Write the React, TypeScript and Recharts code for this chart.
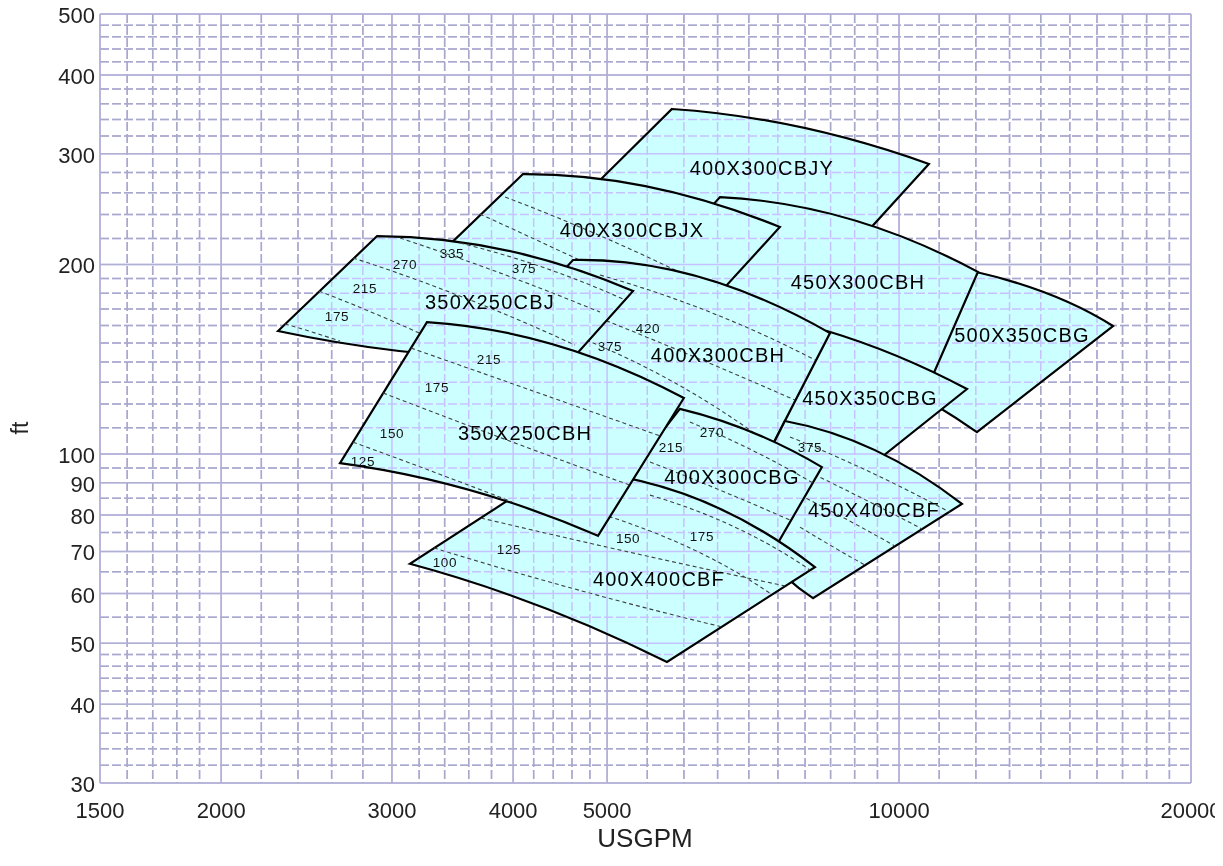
import React from 'react';
import { ScatterChart, Scatter, XAxis, YAxis } from 'recharts';

type Pt = { x: number; y: number };
type Mark = { x: number; y: number; text: string };

const FONT = '"Liberation Sans", Arial, Helvetica, sans-serif';

// axes (log-log)
const xDomain = [1500, 20000];
const yDomain = [30, 500];
const xTickValues = [1500, 2000, 3000, 4000, 5000, 10000, 20000];
const yTickValues = [30, 40, 50, 60, 70, 80, 90, 100, 200, 300, 400, 500];
const xMinorValues = [1600, 1700, 1800, 1900, 2200, 2400, 2600, 2800, 3200, 3400, 3600, 3800, 4200, 4400, 4600, 4800,
  5500, 6000, 6500, 7000, 7500, 8000, 8500, 9000, 9500, 11000, 12000, 13000, 14000, 15000, 16000, 17000, 18000, 19000];
const yMinorValues = [32, 34, 36, 38, 42, 44, 46, 48, 55, 65, 75, 85, 95, 110, 120, 130, 140, 150, 160, 170, 180, 190,
  220, 240, 260, 280, 320, 340, 360, 380, 420, 440, 460, 480];

// pump ranges: top-left, top-mid, top-right, bottom-right, bottom-mid, bottom-left
const edgeCBJY: Pt[] = [{ x: 5832, y: 353.2 }, { x: 7904, y: 330.7 }, { x: 10735, y: 288.8 }, { x: 9266, y: 225.2 }, { x: 6773, y: 239.7 }, { x: 4824, y: 264.5 }];
const edge500CBG: Pt[] = [{ x: 10633, y: 201.8 }, { x: 13640, y: 184.1 }, { x: 16620, y: 159.7 }, { x: 12030, y: 108.3 }, { x: 10888, y: 119.6 }, { x: 9786, y: 131.0 }];
const edge450CBH: Pt[] = [{ x: 6537, y: 255.9 }, { x: 8899, y: 236.2 }, { x: 12059, y: 194.6 }, { x: 10761, y: 130.1 }, { x: 7904, y: 154.5 }, { x: 5735, y: 204.8 }];
const edgeCBJX: Pt[] = [{ x: 4095, y: 278.4 }, { x: 5536, y: 265.5 }, { x: 7536, y: 229.4 }, { x: 6475, y: 177.6 }, { x: 4688, y: 187.6 }, { x: 3362, y: 207.8 }];
const edge450CBG: Pt[] = [{ x: 8427, y: 156.8 }, { x: 9950, y: 143.1 }, { x: 11750, y: 126.8 }, { x: 9511, y: 97.8 }, { x: 8288, y: 103.3 }, { x: 7186, y: 103.3 }];
const edge400CBH: Pt[] = [{ x: 4611, y: 203.3 }, { x: 6233, y: 191.0 }, { x: 8487, y: 155.6 }, { x: 7359, y: 101.4 }, { x: 5536, y: 117.4 }, { x: 3877, y: 151.7 }];
const edgeCBJ: Pt[] = [{ x: 2896, y: 221.9 }, { x: 3925, y: 210.8 }, { x: 5318, y: 181.5 }, { x: 4622, y: 142.6 }, { x: 3283, y: 144.1 }, { x: 2289, y: 156.8 }];
const edge450CBF: Pt[] = [{ x: 7626, y: 112.8 }, { x: 9444, y: 101.4 }, { x: 11610, y: 83.3 }, { x: 8152, y: 59.0 }, { x: 7359, y: 67.8 }, { x: 6854, y: 81.4 }];
const edge400CBG: Pt[] = [{ x: 5943, y: 117.9 }, { x: 7051, y: 108.3 }, { x: 8326, y: 95.3 }, { x: 7430, y: 70.4 }, { x: 6085, y: 78.5 }, { x: 4975, y: 82.9 }];
const edge400CBF: Pt[] = [{ x: 4418, y: 94.3 }, { x: 6085, y: 85.7 }, { x: 8189, y: 66.1 }, { x: 5764, y: 46.7 }, { x: 4263, y: 57.3 }, { x: 3131, y: 66.9 }];
const edge350CBH: Pt[] = [{ x: 3260, y: 162.0 }, { x: 4428, y: 148.9 }, { x: 6000, y: 122.7 }, { x: 4893, y: 74.1 }, { x: 3611, y: 87.6 }, { x: 2652, y: 96.7 }];

// dashed power lines (start, mid, end)
const linesCBJ: Pt[][] = [
  [{ x: 2327, y: 160.9 }, { x: 2481, y: 156.2 }, { x: 2652, y: 151.1 }],
  [{ x: 2522, y: 181.5 }, { x: 2986, y: 163.2 }, { x: 3526, y: 145.2 }],
  [{ x: 2735, y: 204.8 }, { x: 3568, y: 176.9 }, { x: 4633, y: 148.9 }],
  [{ x: 3058, y: 220.3 }, { x: 3877, y: 193.9 }, { x: 4916, y: 168.0 }],
  [{ x: 3526, y: 216.3 }, { x: 4314, y: 197.4 }, { x: 5217, y: 175.6 }],
];
const lines400CBH: Pt[][] = [
  [{ x: 4471, y: 157.4 }, { x: 5804, y: 131.0 }, { x: 7394, y: 102.9 }],
  [{ x: 4688, y: 169.2 }, { x: 6085, y: 143.6 }, { x: 7810, y: 121.8 }],
  [{ x: 4916, y: 192.4 }, { x: 6383, y: 168.0 }, { x: 8190, y: 141.0 }],
];
const linesCBJX: Pt[][] = [
  [{ x: 3697, y: 240.5 }, { x: 4633, y: 204.8 }, { x: 5804, y: 173.7 }],
  [{ x: 3925, y: 255.9 }, { x: 5034, y: 218.7 }, { x: 6475, y: 182.1 }],
];
const lines350CBH: Pt[][] = [
  [{ x: 2735, y: 104.4 }, { x: 3314, y: 93.6 }, { x: 3990, y: 83.9 }],
  [{ x: 2937, y: 125.0 }, { x: 3943, y: 105.2 }, { x: 5280, y: 89.2 }],
  [{ x: 3139, y: 147.3 }, { x: 4223, y: 125.4 }, { x: 5668, y: 106.8 }],
];
const lines400CBG: Pt[][] = [
  [{ x: 5536, y: 97.1 }, { x: 6537, y: 87.6 }, { x: 7718, y: 78.5 }],
  [{ x: 6085, y: 112.4 }, { x: 7051, y: 101.4 }, { x: 8152, y: 89.9 }],
];
const lines450CBF: Pt[][] = [
  [{ x: 7718, y: 106.4 }, { x: 9333, y: 93.6 }, { x: 11280, y: 80.8 }],
  [{ x: 7810, y: 96.0 }, { x: 9113, y: 85.4 }, { x: 10560, y: 76.0 }],
  [{ x: 7904, y: 86.0 }, { x: 8899, y: 78.2 }, { x: 9903, y: 71.4 }],
  [{ x: 7904, y: 76.5 }, { x: 8588, y: 70.9 }, { x: 9222, y: 66.6 }],
];
const lines400CBF: Pt[][] = [
  [{ x: 3314, y: 70.9 }, { x: 4666, y: 60.8 }, { x: 6568, y: 53.1 }],
  [{ x: 3706, y: 79.1 }, { x: 5318, y: 69.6 }, { x: 7626, y: 61.7 }],
  [{ x: 4858, y: 80.8 }, { x: 6085, y: 70.9 }, { x: 7376, y: 59.9 }],
  [{ x: 5536, y: 86.0 }, { x: 6773, y: 76.5 }, { x: 8094, y: 65.4 }],
];

// power labels
const powerCBJ: Mark[] = [
  { x: 2633, y: 165.6, text: '175' }, { x: 2813, y: 183.4, text: '215' }, { x: 3094, y: 200.3, text: '270' },
  { x: 3460, y: 207.8, text: '335' }, { x: 4105, y: 197.4, text: '375' },
];
const power400CBH: Mark[] = [{ x: 5034, y: 148.4, text: '375' }, { x: 5510, y: 158.5, text: '420' }];
const power350CBH: Mark[] = [
  { x: 2800, y: 97.4, text: '125' }, { x: 3000, y: 107.9, text: '150' },
  { x: 3338, y: 127.3, text: '175' }, { x: 3777, y: 141.5, text: '215' },
];
const power400CBG: Mark[] = [{ x: 5818, y: 102.2, text: '215' }, { x: 6413, y: 108.3, text: '270' }];
const power450CBF: Mark[] = [{ x: 8094, y: 102.2, text: '375' }];
const power400CBF: Mark[] = [
  { x: 3402, y: 67.1, text: '100' }, { x: 3961, y: 70.6, text: '125' },
  { x: 5255, y: 73.5, text: '150' }, { x: 6262, y: 73.8, text: '175' },
];

// model names
const modelNames: Mark[] = [
  { x: 7220, y: 284.6, text: '400X300CBJY' },
  { x: 5305, y: 226.8, text: '400X300CBJX' },
  { x: 9070, y: 187.6, text: '450X300CBH' },
  { x: 3786, y: 174.4, text: '350X250CBJ' },
  { x: 13390, y: 154.5, text: '500X350CBG' },
  { x: 6506, y: 143.6, text: '400X300CBH' },
  { x: 9333, y: 122.7, text: '450X350CBG' },
  { x: 4115, y: 107.9, text: '350X250CBH' },
  { x: 6725, y: 91.9, text: '400X300CBG' },
  { x: 9421, y: 81.4, text: '450X400CBF' },
  { x: 5655, y: 63.3, text: '400X400CBF' },
];

// drawing order, bottom to top
const pumps = [
  { id: 'cbjy', edge: edgeCBJY, lines: [] as Pt[][], marks: [] as Mark[] },
  { id: '500cbg', edge: edge500CBG, lines: [], marks: [] },
  { id: '450cbh', edge: edge450CBH, lines: [], marks: [] },
  { id: 'cbjx', edge: edgeCBJX, lines: linesCBJX, marks: [] },
  { id: '450cbg', edge: edge450CBG, lines: [], marks: [] },
  { id: '400cbh', edge: edge400CBH, lines: lines400CBH, marks: power400CBH },
  { id: 'cbj', edge: edgeCBJ, lines: linesCBJ, marks: powerCBJ },
  { id: '450cbf', edge: edge450CBF, lines: lines450CBF, marks: power450CBF },
  { id: '400cbg', edge: edge400CBG, lines: lines400CBG, marks: power400CBG },
  { id: '400cbf', edge: edge400CBF, lines: lines400CBF, marks: power400CBF },
  { id: '350cbh', edge: edge350CBH, lines: lines350CBH, marks: power350CBH },
];

const vSeg = (xs: number[]) => xs.flatMap((v) => [{ x: v, y: yDomain[1] }, { x: v, y: yDomain[0] }]);
const hSeg = (ys: number[]) => ys.flatMap((v) => [{ x: xDomain[0], y: v }, { x: xDomain[1], y: v }]);
const majorGrid = [...vSeg(xTickValues), ...hSeg(yTickValues)];
const minorGrid = [...vSeg(xMinorValues), ...hSeg(yMinorValues)];

const hiddenDot = () => <g />;

function quad(a: any, m: any, b: any) {
  const cx = 2 * m.x - (a.x + b.x) / 2;
  const cy = 2 * m.y - (a.y + b.y) / 2;
  return `Q${cx.toFixed(1)},${cy.toFixed(1)} ${b.x.toFixed(1)},${b.y.toFixed(1)}`;
}

const regionPath = (props: any) => {
  const p = props.points || [];
  if (p.length < 6) return <g />;
  const d = `M${p[0].x},${p[0].y} ${quad(p[0], p[1], p[2])} L${p[3].x},${p[3].y} ${quad(p[3], p[4], p[5])} Z`;
  return <path d={d} fill="#ccffff" stroke="#000" strokeWidth={2.2} strokeLinejoin="miter" />;
};

const curvePath = (props: any) => {
  const p = props.points || [];
  let d = '';
  for (let i = 0; i + 2 < p.length; i += 3) d += `M${p[i].x},${p[i].y} ${quad(p[i], p[i + 1], p[i + 2])} `;
  return <path d={d} fill="none" stroke="#404040" strokeWidth={1.1} strokeDasharray="4 3" />;
};

const gridPath = (stroke: string, dash?: string, blend?: boolean) => (props: any) => {
  const p = props.points || [];
  let d = '';
  for (let i = 0; i + 1 < p.length; i += 2) d += `M${p[i].x},${p[i].y}L${p[i + 1].x},${p[i + 1].y}`;
  return (
    <path d={d} fill="none" stroke={stroke} strokeWidth={1.5} strokeDasharray={dash}
      style={blend ? { mixBlendMode: 'darken' } : undefined} />
  );
};

const powerText = (props: any) => (
  <text x={props.cx} y={props.cy} textAnchor="middle" dominantBaseline="central" fontSize={13.5}
    letterSpacing={0.6} fill="#111" fontFamily={FONT}>{props.payload.text}</text>
);

const nameText = (props: any) => (
  <text x={props.cx} y={props.cy} textAnchor="middle" dominantBaseline="central" fontSize={20}
    letterSpacing={1.2} fill="#000" fontFamily={FONT}>{props.payload.text}</text>
);

const XTick = (props: any) => (
  <text x={props.x} y={props.y + 35} textAnchor="middle" fontSize={22} fill="#222" fontFamily={FONT}>
    {props.payload.value}
  </text>
);

const YTick = (props: any) => (
  <text x={props.x} y={props.y + 9} textAnchor="end" fontSize={22} fill="#222" fontFamily={FONT}>
    {props.payload.value}
  </text>
);

export default function App() {
  return (
    <div style={{ position: 'relative', width: 1215, height: 866, marginTop: -8, fontFamily: FONT }}>
      <ScatterChart width={1215} height={866} margin={{ top: 14, right: 32, bottom: 23, left: 0 }}>
        <XAxis type="number" dataKey="x" scale="log" domain={xDomain} ticks={xTickValues} interval={0}
          height={60} tick={XTick} tickSize={0} tickMargin={0} axisLine={false} tickLine={false} />
        <YAxis type="number" dataKey="y" scale="log" domain={yDomain} ticks={yTickValues} interval={0}
          width={92} tick={YTick} tickSize={0} tickMargin={5} axisLine={false} tickLine={false} />

        <Scatter data={minorGrid} line={gridPath('#a8a8c8', '9 3')} shape={hiddenDot} isAnimationActive={false} />
        <Scatter data={majorGrid} line={gridPath('#b0b0d0')} shape={hiddenDot} isAnimationActive={false} />

        {pumps.flatMap((pump) => [
          <Scatter key={pump.id + '-edge'} data={pump.edge} line={regionPath} shape={hiddenDot} isAnimationActive={false} />,
          <Scatter key={pump.id + '-lines'} data={pump.lines.flat()} line={curvePath} shape={hiddenDot} isAnimationActive={false} />,
          <Scatter key={pump.id + '-marks'} data={pump.marks} shape={powerText} isAnimationActive={false} />,
        ])}

        <Scatter data={minorGrid} line={gridPath('#c6c2ff', '9 3', true)} shape={hiddenDot} isAnimationActive={false} />
        <Scatter data={majorGrid} line={gridPath('#c6c2ff', undefined, true)} shape={hiddenDot} isAnimationActive={false} />

        <Scatter data={modelNames} shape={nameText} isAnimationActive={false} />
      </ScatterChart>
      <div style={{ position: 'absolute', left: 11.5, top: 428, transform: 'translate(-50%, -50%) rotate(-90deg)',
        fontSize: 23, lineHeight: 1, color: '#222', whiteSpace: 'nowrap' }}>ft</div>
      <div style={{ position: 'absolute', left: 637, top: 838, transform: 'translate(-50%, -50%)',
        fontSize: 26, lineHeight: 1, color: '#222', whiteSpace: 'nowrap' }}>USGPM</div>
    </div>
  );
}
